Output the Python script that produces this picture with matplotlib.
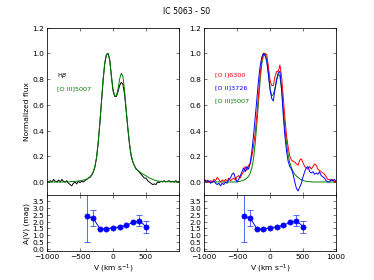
import matplotlib
matplotlib.use("Agg")
import matplotlib.pyplot as plt
import numpy as np

# velocity grid, 25 km/s steps
vel = np.arange(-1000, 1001, 25)

# left panel: Hbeta and [O III]5007
hbeta = [0.005, 0.0, 0.01, 0.0, 0.02, 0.005, 0.0, 0.015, 0.0, 0.02,
         0.005, 0.0, 0.01, -0.01, -0.02, -0.03, -0.01, 0.0, -0.015, 0.005,
         -0.005, 0.005, 0.0, 0.01, 0.02, 0.03, 0.035, 0.05, 0.075, 0.115,
         0.185, 0.3, 0.45, 0.62, 0.79, 0.92, 0.99, 1.0, 0.95, 0.82,
         0.71, 0.665, 0.665, 0.7, 0.75, 0.775, 0.76, 0.68, 0.55, 0.41,
         0.29, 0.2, 0.155, 0.125, 0.1, 0.09, 0.075, 0.06, 0.045, 0.03,
         0.03, 0.01, 0.0, -0.01, -0.02, -0.015, -0.02, 0.0, -0.005, 0.005,
         0.0, 0.01, 0.0, 0.005, 0.01, 0.0, 0.005, 0.0, 0.01, 0.0, 0.005]
oiii = [0.0, 0.0, 0.0, 0.0, 0.0, 0.0, 0.0, 0.0, 0.0, 0.0,
        0.0, 0.0, 0.0, 0.0, 0.002, 0.003, 0.004, 0.005, 0.006, 0.008,
        0.01, 0.012, 0.015, 0.018, 0.022, 0.03, 0.04, 0.055, 0.08, 0.12,
        0.19, 0.31, 0.46, 0.63, 0.8, 0.93, 0.99, 1.0, 0.95, 0.83,
        0.72, 0.67, 0.67, 0.72, 0.8, 0.845, 0.82, 0.71, 0.56, 0.42,
        0.3, 0.21, 0.16, 0.125, 0.105, 0.09, 0.08, 0.07, 0.062, 0.055,
        0.047, 0.04, 0.032, 0.025, 0.02, 0.015, 0.011, 0.008, 0.006, 0.005,
        0.004, 0.003, 0.003, 0.002, 0.002, 0.001, 0.001, 0.0, 0.0, 0.0, 0.0]

# right panel: [O I]6300, [O II]3726, [O III]5007
oi = [0.02, 0.0, 0.015, -0.005, 0.01, 0.0, 0.02, 0.01, 0.035, 0.02,
      0.0, 0.015, 0.005, 0.02, 0.01, 0.03, 0.01, 0.02, 0.03, 0.015,
      0.04, 0.05, 0.03, 0.06, 0.08, 0.12, 0.09, 0.13, 0.14, 0.2,
      0.28, 0.38, 0.52, 0.68, 0.83, 0.94, 1.0, 1.0, 0.99, 0.9,
      0.79, 0.75, 0.75, 0.82, 0.86, 0.86, 0.91, 0.82, 0.66, 0.5,
      0.36, 0.27, 0.2, 0.17, 0.16, 0.155, 0.14, 0.13, 0.17, 0.18,
      0.15, 0.12, 0.11, 0.1, 0.12, 0.1, 0.12, 0.14, 0.13, 0.1,
      0.09, 0.08, 0.07, 0.06, 0.04, 0.02, 0.02, 0.01, 0.02, 0.0, 0.01]
oii = [0.02, 0.01, 0.0, 0.01, -0.01, 0.0, 0.01, -0.01, -0.02, -0.01,
       -0.03, -0.01, -0.02, 0.0, -0.01, 0.02, 0.03, 0.06, 0.07, 0.03,
       0.0, 0.02, 0.05, 0.08, 0.11, 0.08, 0.12, 0.1, 0.15, 0.24,
       0.36, 0.5, 0.64, 0.79, 0.9, 0.97, 1.0, 0.98, 0.94, 0.84,
       0.72, 0.65, 0.63, 0.72, 0.79, 0.85, 0.86, 0.72, 0.52, 0.36,
       0.24, 0.16, 0.12, 0.1, 0.06, 0.0, -0.05, -0.07, -0.04, -0.01,
       0.04, 0.08, 0.11, 0.12, 0.08, 0.07, 0.08, 0.06, 0.07, 0.06,
       0.08, 0.05, 0.04, 0.03, 0.01, 0.0, 0.0, 0.02, 0.01, 0.02, 0.0]
oiii_r = [0.0, 0.0, 0.0, 0.0, 0.0, 0.0, 0.0, 0.0, 0.0, 0.0,
          0.0, 0.0, 0.0, 0.0, 0.0, 0.0, 0.0, 0.0, 0.0, 0.0,
          0.0, 0.003, 0.006, 0.01, 0.015, 0.02, 0.03, 0.045, 0.07, 0.11,
          0.18, 0.3, 0.45, 0.62, 0.79, 0.92, 0.985, 1.0, 0.95, 0.84,
          0.73, 0.67, 0.68, 0.73, 0.8, 0.84, 0.82, 0.72, 0.57, 0.42,
          0.3, 0.21, 0.15, 0.11, 0.08, 0.06, 0.045, 0.035, 0.025, 0.018,
          0.012, 0.008, 0.005, 0.003, 0.002, 0.001, 0.0, 0.0, 0.0, 0.0,
          0.0, 0.0, 0.0, 0.0, 0.0, 0.0, 0.0, 0.0, 0.0, 0.0, 0.0]

# extinction
vel_av = [-400, -300, -200, -100, 0, 100, 200, 300, 400, 500]
av = [2.38, 2.25, 1.48, 1.45, 1.55, 1.6, 1.72, 1.93, 2.07, 1.62]
av_err = [1.85, 0.58, 0.04, 0.04, 0.04, 0.04, 0.04, 0.04, 0.4, 0.45]

plt.rcParams['font.size'] = 11.5
plt.rcParams['xtick.direction'] = 'in'
plt.rcParams['ytick.direction'] = 'in'
plt.rcParams['xtick.top'] = True
plt.rcParams['ytick.right'] = True
plt.rcParams['xtick.major.size'] = 4
plt.rcParams['ytick.major.size'] = 4
plt.rcParams['xtick.major.pad'] = 4
plt.rcParams['ytick.major.pad'] = 4
plt.rcParams['axes.linewidth'] = 1.2

fig = plt.figure(figsize=(8, 6), dpi=46.75)
ax1 = fig.add_axes([0.1257, 0.3036, 0.353, 0.596])
ax2 = fig.add_axes([0.5455, 0.3036, 0.353, 0.596])
ax3 = fig.add_axes([0.1257, 0.1036, 0.353, 0.2])
ax4 = fig.add_axes([0.5455, 0.1036, 0.353, 0.2])

ax1.plot(vel, hbeta, color='k', lw=1.5)
ax1.plot(vel, oiii, color='g', lw=1.5)
ax1.text(0.073, 0.71, r'H$\beta$', color='k', transform=ax1.transAxes, fontsize=10)
ax1.text(0.073, 0.63, '[O III]5007', color='g', transform=ax1.transAxes, fontsize=10)
ax1.set_ylabel('Normalized flux')

ax2.plot(vel, oiii_r, color='g', lw=1.5)
ax2.plot(vel, oi, color='r', lw=1.5)
ax2.plot(vel, oii, color='b', lw=1.5)
ax2.text(0.083, 0.71, '[O I]6300', color='r', transform=ax2.transAxes, fontsize=10)
ax2.text(0.083, 0.632, '[O II]3726', color='b', transform=ax2.transAxes, fontsize=10)
ax2.text(0.083, 0.554, '[O III]5007', color='g', transform=ax2.transAxes, fontsize=10)

for ax in (ax1, ax2):
    ax.set_xlim(-1000, 1000)
    ax.set_ylim(-0.1, 1.2)
    ax.set_yticks([0.0, 0.2, 0.4, 0.6, 0.8, 1.0, 1.2])
    ax.set_xticks([-1000, -500, 0, 500, 1000])
    ax.set_xticklabels([])

for ax in (ax3, ax4):
    ax.errorbar(vel_av, av, yerr=av_err, fmt='o-', color='b', ecolor='#3355ff',
                ms=8, lw=1.5, elinewidth=1.3, capsize=4, capthick=1.3)
    ax.set_xlim(-1000, 1000)
    ax.set_ylim(-0.15, 3.95)
    ax.set_yticks(np.arange(0, 3.6, 0.5))
    ax.set_xlabel(r'V (km s$^{-1}$)')

ax3.set_xticks([-1000, -500, 0, 500])
ax4.set_xticks([-1000, -500, 0, 500, 1000])
ax3.set_ylabel('A(V) (mag)')

fig.suptitle('IC 5063 - S0', y=0.975, fontsize=12)
fig.savefig('out.png', dpi=46.75, facecolor='white')
